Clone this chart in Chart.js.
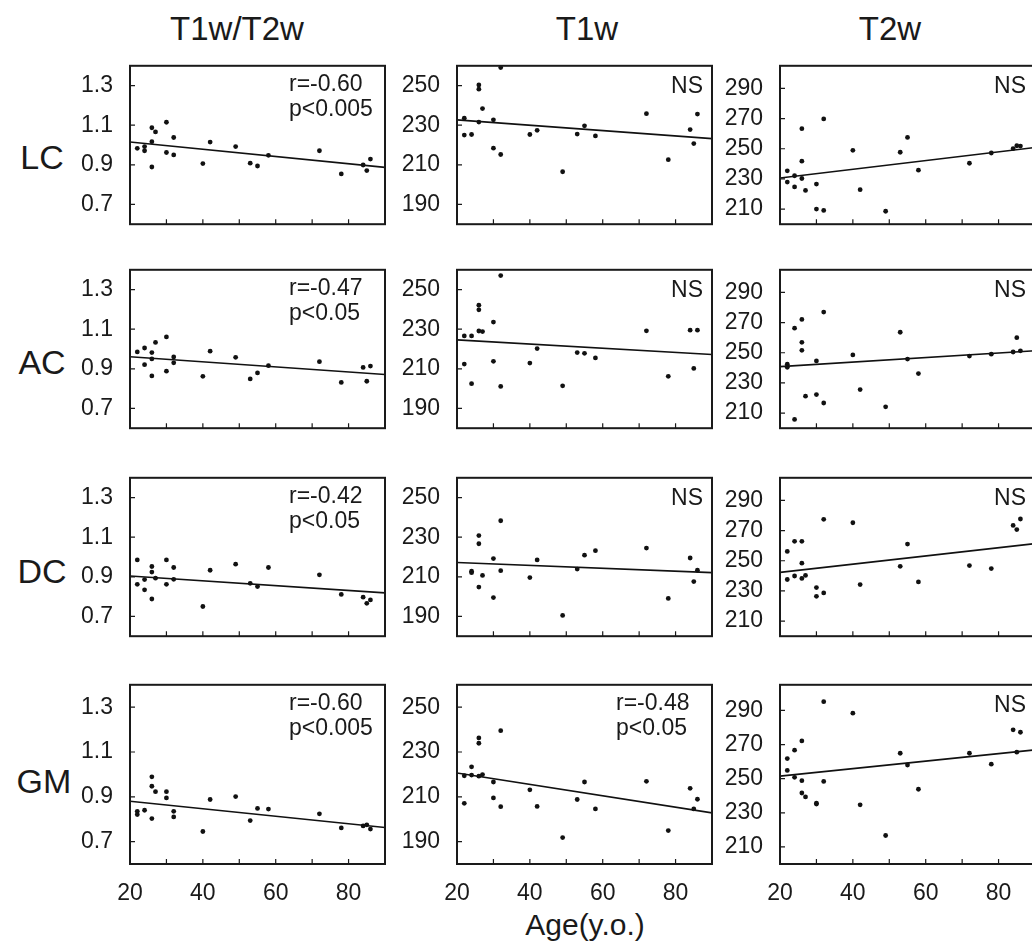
<!DOCTYPE html>
<html>
<head>
<meta charset="utf-8">
<script src="https://cdn.jsdelivr.net/npm/chart.js@4.4.1/dist/chart.umd.min.js"></script>
<style>
html, body { margin: 0; padding: 0; width: 1032px; height: 946px; overflow: hidden; background: #fff; }
body { position: relative; font-family: 'Liberation Sans', Arial, sans-serif; color: #1a1a1a; }
canvas { position: absolute; }
.lbl { position: absolute; white-space: nowrap; line-height: 1; transform: translateX(-50%); }
</style>
</head>
<body>
<div class="lbl" style="left:237px; top:12px; font-size:33px">T1w/T2w</div>
<div class="lbl" style="left:587px; top:12px; font-size:33px">T1w</div>
<div class="lbl" style="left:890px; top:12px; font-size:33px">T2w</div>
<div class="lbl" style="left:42px; top:140px; font-size:34px">LC</div>
<div class="lbl" style="left:42px; top:345px; font-size:34px">AC</div>
<div class="lbl" style="left:42px; top:554px; font-size:34px">DC</div>
<div class="lbl" style="left:44px; top:764px; font-size:34px">GM</div>
<div class="lbl" style="left:585px; top:910px; font-size:30px">Age(y.o.)</div>
<div id="wrap"></div>
<script>
// subject ages (same subjects in every panel)
const ages = [22, 22, 24, 24, 26, 26, 26, 27, 30, 30, 32, 32, 40, 42, 49, 53, 55, 58, 72, 78, 84, 85, 86]

// null = point not visible in the figure
const lcRatio = [0.983, null, 0.992, 0.971, 1.087, 1.017, 0.889, 1.066, 1.115, 0.962, 1.038, 0.950, 0.906, 1.015, 0.992, 0.908, 0.894, 0.948, 0.971, 0.854, 0.899, 0.871, 0.929]
const lcT1 = [233.5, 225.0, 225.3, null, 250.3, 248.2, 231.6, 238.4, 232.7, 218.4, 259.1, 215.2, 225.3, 227.4, 206.5, 225.5, 229.7, 224.6, 235.8, 212.6, 227.8, 220.7, 235.6]
const lcT2 = [235.4, 227.9, 232.1, 224.7, 263.3, 241.8, 230.3, 222.4, 226.6, 210.0, 269.8, 209.1, 249.0, 222.9, 208.6, 247.7, 257.5, 235.8, 240.4, 247.2, 250.1, 252.0, 251.8]

const acRatio = [0.985, null, 1.005, 0.921, 0.982, 0.950, 0.864, 1.033, 1.061, 0.888, 0.960, 0.930, 0.862, 0.989, 0.958, 0.849, 0.879, 0.916, 0.936, 0.831, 0.907, 0.837, 0.914]
const acT1 = [226.6, 212.4, 226.6, 202.5, 242.1, 239.8, 229.1, 228.8, 233.6, 213.8, 257.1, 201.1, 212.9, 220.2, 201.4, 218.2, 217.8, 215.5, 229.2, 206.2, 229.5, 210.2, 229.5]
const acT2 = [242.4, 240.4, 266.3, 205.8, 272.1, 256.9, 251.6, 221.2, 244.6, 222.3, 277.0, 216.7, 248.6, 225.6, 214.2, 263.6, 245.8, 236.2, 247.8, 249.1, 250.5, 260.0, 251.3]

const dcRatio = [0.985, 0.862, 0.886, 0.834, 0.952, 0.924, 0.788, 0.893, 0.985, 0.862, 0.947, 0.887, 0.750, 0.933, 0.964, 0.867, 0.851, 0.947, 0.910, 0.811, 0.797, 0.766, 0.783]
const dcT1 = [null, null, 212.8, 212.1, 230.8, 226.7, 204.8, 210.7, 219.2, 199.5, 238.3, 213.1, 209.6, 218.5, 190.5, 213.9, 220.9, 223.2, 224.5, 199.1, 219.5, 207.6, 213.3]
const dcT2 = [256.2, 237.6, 262.9, 239.9, 262.9, 248.4, 238.3, 240.3, 232.2, 226.4, 277.5, 228.7, 275.2, 234.2, null, 246.3, 261.1, 236.0, 246.8, 244.8, 273.4, 270.7, 277.7]

const gmRatio = [0.835, 0.821, 0.840, null, 0.989, 0.947, 0.803, 0.923, 0.923, 0.895, 0.835, 0.810, 0.745, 0.888, 0.901, 0.794, 0.848, 0.845, 0.824, 0.761, 0.770, 0.775, 0.756]
const gmT1 = [207.1, 219.4, 223.4, 219.7, 236.3, 233.9, 219.2, 219.9, 216.6, 209.5, 239.5, 205.6, 213.1, 205.7, 191.8, 208.8, 216.6, 204.6, 216.9, 194.9, 213.8, 204.6, 208.9]
const gmT2 = [261.8, 254.8, 266.7, 250.8, 272.1, 248.8, 241.6, 239.3, 235.6, 235.1, 295.1, 248.4, 288.4, 234.7, 216.7, 264.9, 258.0, 243.8, 264.9, 258.5, 278.6, 265.5, 277.2]

// regression lines, value at age 20 and at age 90
const fitAges = [20, 90]
const lcRatioFit = [1.015, 0.887], lcT1Fit = [232.7, 223.2], lcT2Fit = [230.6, 250.8]
const acRatioFit = [0.961, 0.871], acT1Fit = [224.6, 217.2], acT2Fit = [240.8, 251.3]
const dcRatioFit = [0.904, 0.819], dcT1Fit = [217.2, 212.1], dcT2Fit = [242.3, 261.4]
const gmRatioFit = [0.880, 0.763], gmT1Fit = [220.6, 202.8], gmT2Fit = [251.5, 266.9]

// axis ticks
const xTicks = [30, 40, 50, 60, 70, 80]
const xLabels = [20, 40, 60, 80]
const ratioTicks = [0.7, 0.9, 1.1, 1.3]
const t1Ticks = [190, 210, 230, 250]
const t2Ticks = [210, 230, 250, 270, 290]

const notes = [
    [['r=-0.60', 'p<0.005'], ['NS'], ['NS']],
    [['r=-0.47', 'p<0.05'], ['NS'], ['NS']],
    [['r=-0.42', 'p<0.05'], ['NS'], ['NS']],
    [['r=-0.60', 'p<0.005'], ['r=-0.48', 'p<0.05'], ['NS']]
]

const rows = [
    [[lcRatio, lcRatioFit], [lcT1, lcT1Fit], [lcT2, lcT2Fit]],
    [[acRatio, acRatioFit], [acT1, acT1Fit], [acT2, acT2Fit]],
    [[dcRatio, dcRatioFit], [dcT1, dcT1Fit], [dcT2, dcT2Fit]],
    [[gmRatio, gmRatioFit], [gmT1, gmT1Fit], [gmT2, gmT2Fit]]
]

const axisKinds = [
    { min: 0.6, max: 1.4, ticks: ratioTicks, fmt: v => v.toFixed(1) },
    { min: 180, max: 260, ticks: t1Ticks, fmt: v => v },
    { min: 200, max: 305, ticks: t2Ticks, fmt: v => v }
]

const colLeft = [130, 457, 780]
const rowTop = [55, 259, 467, 674]
const plotW = 255, plotH = 190
const yAxisW = 75, pad = 12

const FONT = "'Liberation Sans', Arial, sans-serif"
const INK = '#1a1a1a'
Chart.defaults.font.family = FONT
Chart.defaults.color = INK

const panelDeco = {
    id: 'panelDeco',
    afterDraw(chart, args, opts) {
        const { ctx, chartArea: a, scales } = chart
        ctx.save()
        ctx.strokeStyle = INK
        ctx.lineWidth = 2
        ctx.strokeRect(a.left, a.top, a.right - a.left, a.bottom - a.top)
        // inward tick marks
        ctx.lineWidth = 1.2
        ctx.beginPath()
        opts.yTicks.forEach(v => {
            const y = scales.y.getPixelForValue(v)
            ctx.moveTo(a.left, y)
            ctx.lineTo(a.left + 5, y)
        })
        xTicks.forEach(v => {
            const x = scales.x.getPixelForValue(v)
            ctx.moveTo(x, a.bottom)
            ctx.lineTo(x, a.bottom - 5)
        })
        ctx.stroke()
        ctx.fillStyle = INK
        ctx.font = '23px ' + FONT
        if (opts.note.length === 1) {
            ctx.textAlign = 'right'
            ctx.fillText(opts.note[0], a.right - 9, a.top + 27)
        } else {
            ctx.textAlign = 'left'
            opts.note.forEach((t, i) => ctx.fillText(t, a.right - 96, a.top + 25 + i * 25))
        }
        ctx.restore()
    }
}

const wrap = document.getElementById('wrap')

rows.forEach((row, r) => {
    row.forEach(([vals, fit], c) => {
        const kind = axisKinds[c]
        const bottom = r === rows.length - 1
        const cv = document.createElement('canvas')
        cv.width = yAxisW + plotW + pad
        cv.height = pad + plotH + (bottom ? 40 : 2)
        cv.style.left = (colLeft[c] - yAxisW) + 'px'
        cv.style.top = (rowTop[r] - pad) + 'px'
        wrap.appendChild(cv)

        const points = ages.map((a, i) => ({ x: a, y: vals[i] })).filter(p => p.y !== null)
        const line = fitAges.map((a, i) => ({ x: a, y: fit[i] }))

        new Chart(cv, {
            type: 'scatter',
            data: {
                datasets: [{
                    data: points,
                    pointRadius: 2.4,
                    pointBackgroundColor: '#111',
                    pointBorderWidth: 0
                }, {
                    data: line,
                    showLine: true,
                    borderColor: '#111',
                    borderWidth: 1.6,
                    pointRadius: 0
                }]
            },
            options: {
                responsive: false,
                animation: false,
                devicePixelRatio: 1,
                layout: { padding: { top: pad, right: pad, left: 0, bottom: 0 } },
                plugins: {
                    legend: { display: false },
                    tooltip: { enabled: false },
                    panelDeco: { yTicks: kind.ticks, note: notes[r][c] }
                },
                scales: {
                    x: {
                        type: 'linear', min: 20, max: 90,
                        grid: { display: false }, border: { display: false },
                        ticks: {
                            display: bottom, stepSize: 10, autoSkip: false, maxRotation: 0,
                            padding: 8, color: INK, font: { size: 23 },
                            callback: v => xLabels.includes(v) ? v : ''
                        },
                        afterFit: s => { s.height = bottom ? 40 : 2 }
                    },
                    y: {
                        min: kind.min, max: kind.max,
                        grid: { display: false }, border: { display: false },
                        afterBuildTicks: s => { s.ticks = kind.ticks.map(v => ({ value: v })) },
                        ticks: { padding: 9, color: INK, font: { size: 23 }, callback: v => kind.fmt(v) },
                        afterFit: s => { s.width = yAxisW }
                    }
                }
            },
            plugins: [panelDeco]
        })
    })
})
</script>
</body>
</html>
